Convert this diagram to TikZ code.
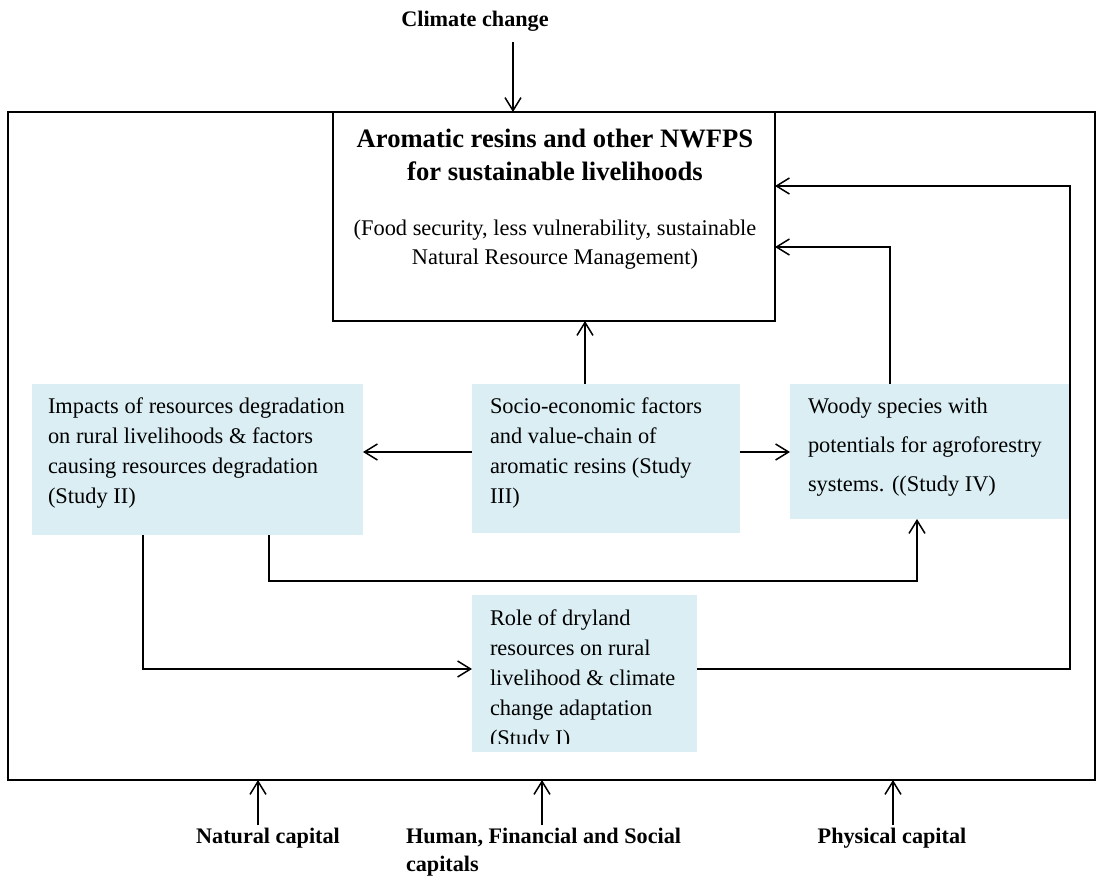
\documentclass[tikz,border=0pt]{standalone}
\usepackage{fontspec}
\setmainfont{Liberation Serif}
\usetikzlibrary{arrows.meta}
\definecolor{bluefill}{RGB}{218,238,243}
\tikzset{
  frameline/.style={draw=black, line width=1pt, inner sep=0pt, outer sep=0pt, anchor=north west},
  bluebox/.style={fill=bluefill, draw=none, inner sep=0pt, outer sep=0pt, anchor=north west},
  bodytext/.style={anchor=north west, inner sep=0pt, outer sep=0pt, align=left, font=\fontsize{11.2}{15}\selectfont},
  capital/.style={inner sep=0pt, outer sep=0pt, font=\fontsize{11.1}{14}\selectfont\bfseries},
  conn/.style={line width=0.75pt},
  arr/.style={conn, -{Straight Barb[length=6.5pt,width=8pt]}}
}
\begin{document}
\begin{tikzpicture}[x=0.5pt,y=-0.5pt]
\useasboundingbox (0,0) rectangle (1098,877);

% outer frame and main box
\node[frameline, minimum width=543.5pt, minimum height=334pt] (frame) at (8,112) {};
\node[frameline, minimum width=221pt, minimum height=104.5pt] (main) at (333,112) {};
\node[anchor=north, inner sep=0pt, align=center, font=\fontsize{13.3}{16.5}\selectfont\bfseries] (title) at (555,128.5)
  {Aromatic resins and other NWFPS\\for sustainable livelihoods};
\node[anchor=north, inner sep=0pt, align=center, font=\fontsize{11.2}{14.5}\selectfont] (subtitle) at (555,219.5)
  {(Food security, less vulnerability, sustainable\\Natural Resource Management)};

% blue boxes
\node[bluebox, minimum width=165.5pt, minimum height=75.5pt] (left) at (32,384) {};
\node[bluebox, minimum width=134pt, minimum height=74.5pt] (mid) at (472,384) {};
\node[bluebox, minimum width=140pt, minimum height=67.5pt] (right) at (790,384) {};
\node[bluebox, minimum width=112.5pt, minimum height=78.5pt] (bot) at (472,595) {};

\node[bodytext] (lefttext) at (48,397.5)
  {Impacts of resources degradation\\on rural livelihoods \& factors\\causing resources degradation\\(Study II)};
\node[bodytext] (midtext) at (490,397.5)
  {Socio-economic factors\\and value-chain of\\aromatic resins (Study\\III)};
\node[bodytext, font=\fontsize{11.2}{19.5}\selectfont] (righttext) at (808,397.5)
  {Woody species with\\potentials for agroforestry\\systems. ((Study IV)};
\begin{scope}
  \clip (472,595) rectangle (697,743);
  \node[bodytext] (bottext) at (490,609.5)
    {Role of dryland\\resources on rural\\livelihood \& climate\\change adaptation\\(Study I)};
\end{scope}

% outside labels
\node[capital, anchor=base] (climate) at (475,27) {Climate change};
\node[capital, anchor=base] (natural) at (268,843) {Natural capital};
\node[capital, anchor=north west, align=left] (human) at (406,828) {Human, Financial and Social\\capitals};
\node[capital, anchor=base] (physical) at (892,843) {Physical capital};

% coordinates for connector bends and free ends
\coordinate (c0) at (513,42);
\coordinate (na) at (258,825);
\coordinate (hu) at (542,825);
\coordinate (ph) at (893,825);
\coordinate (m1) at (585,0);
\coordinate (r1) at (890,247);
\coordinate (l1) at (143,669);
\coordinate (k1) at (269,581);
\coordinate (k2) at (917,581);
\coordinate (p1) at (1070,669);
\coordinate (p2) at (1070,186);
\coordinate (h1) at (0,452);

% connectors
\draw[arr] (c0) -- (c0 |- main.north);
\draw[arr] (mid.north -| m1) -- (m1 |- main.south);
\draw[arr] (mid.west |- h1) -- (left.east |- h1);
\draw[arr] (mid.east |- h1) -- (right.west |- h1);
\draw[arr] (right.north -| r1) -- (r1) -- (main.east |- r1);
\draw[arr] (left.south -| l1) -- (l1) -- (bot.west |- l1);
\draw[arr] (left.south -| k1) -- (k1) -- (k2) -- (k2 |- right.south);
\draw[arr] (bot.east |- p1) -- (p1) -- (p2) -- (main.east |- p2);
\draw[arr] (na) -- (na |- frame.south);
\draw[arr] (hu) -- (hu |- frame.south);
\draw[arr] (ph) -- (ph |- frame.south);
\end{tikzpicture}
\end{document}
